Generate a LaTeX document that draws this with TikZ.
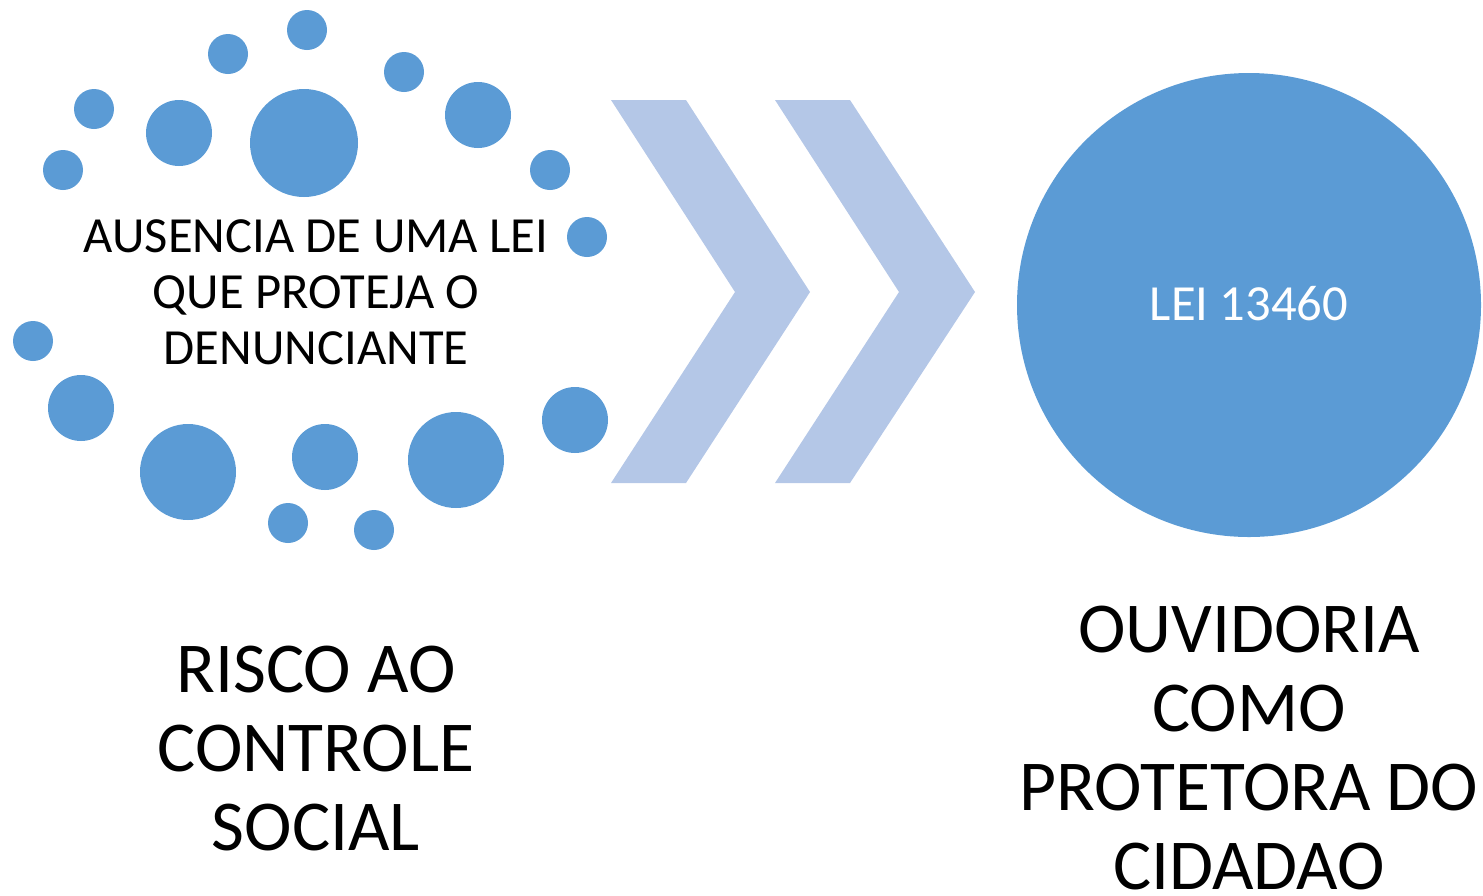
\documentclass[tikz,border=0pt]{standalone}
\usepackage{fontspec}
\setmainfont{Carlito}
\definecolor{dotblue}{HTML}{5B9BD5}
\definecolor{chev}{HTML}{B4C7E7}
\begin{document}
\begin{tikzpicture}[x=0.5pt,y=-0.5pt,
  dot/.style={fill=dotblue,draw=none},
  chevron/.style={fill=chev,draw=none},
  smalltext/.style={align=center,font=\fontsize{25.3}{28}\selectfont,text=black,inner sep=0},
  bigtext/.style={align=center,font=\fontsize{35.8}{39.5}\selectfont,text=black,inner sep=0}]
\useasboundingbox (0,0) rectangle (1483,895);
\clip (0,0) rectangle (1483,895);
% dots
\foreach \x/\y/\r [count=\i] in {307/30/20,228/54/20,404/72/20,94/109/20,179/133/33,304/143/54,478/115/33,63/170/20,550/170/20,587/237/20,33/341/20,81/408/33,188/472/48,325/457/33,456/460/48,575/420/33,288/523/20,374/530/20}
  \fill[dot] (\x,\y) circle[radius=\r*0.5pt];
\node[smalltext] (ausencia) at (316,292) {AUSENCIA DE UMA LEI\\QUE PROTEJA O\\DENUNCIANTE};
% chevrons
\fill[chevron] (611,100) -- (686,100) -- (810,292) -- (686,483) -- (611,483) -- (735,292) -- cycle;
\fill[chevron] (775,100) -- (850,100) -- (975,292) -- (850,483) -- (775,483) -- (899,292) -- cycle;
% big circle
\fill[dot] (1249,305) circle[radius=116pt];
\node[text=white,font=\fontsize{25.3}{28}\selectfont,inner sep=0] (lei) at (1249,304) {LEI 13460};
% bottom texts
\node[bigtext,anchor=north] (risco) at (316,646) {RISCO AO\\CONTROLE\\SOCIAL};
\node[bigtext,anchor=north] (ouvidoria) at (1249,606) {OUVIDORIA\\COMO\\PROTETORA DO\\CIDADAO};
\end{tikzpicture}
\end{document}
